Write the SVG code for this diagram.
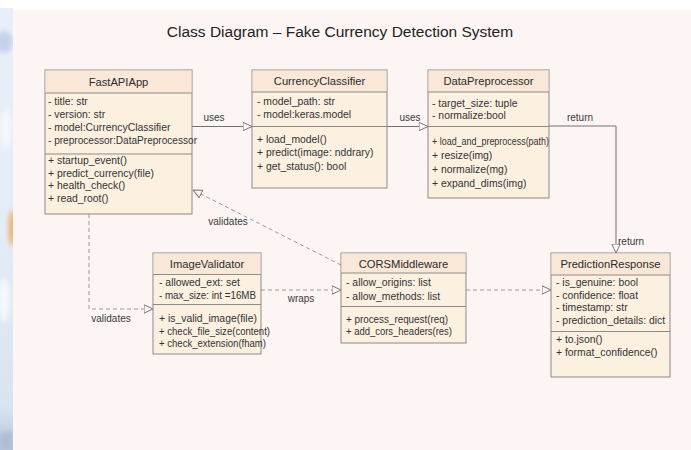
<svg xmlns="http://www.w3.org/2000/svg" width="691" height="450" viewBox="0 0 691 450">
  <defs>
    <style>
      text { font-family: "Liberation Sans", Arial, Helvetica, sans-serif; fill: #333; }
      .title { font-size: 15.5px; fill: #222; text-anchor: middle; }
      .cname { font-size: 11.2px; text-anchor: middle; fill: #2b2b2b; }
      .mem { font-size: 10.4px; }
      .lbl { font-size: 10px; fill: #3a3a3a; }
      .lblc { font-size: 10px; fill: #3a3a3a; text-anchor: middle; }
      .body { fill: #fcf0e1; stroke: #8e8a86; stroke-width: 1; }
      .head { fill: #f9e7d7; }
      .sep { stroke: #8e8a86; stroke-width: 1; }
      .solid { fill: none; stroke: #707070; stroke-width: 1; marker-end: url(#tri); }
      .dash { fill: none; stroke: #9a9a9a; stroke-width: 1; stroke-dasharray: 4 3; marker-end: url(#tri); }
      .tip { fill: #fcf5f3; stroke: #7a7a7a; stroke-width: 1; }
    </style>
    <!-- hollow triangle used for every association end -->
    <marker id="tri" viewBox="0 0 10 10" refX="9.5" refY="5" markerWidth="10" markerHeight="10" markerUnits="userSpaceOnUse" orient="auto">
      <path class="tip" d="M0.5,0.8 L9.5,5 L0.5,9.2 z"/>
    </marker>
    <linearGradient id="strip" x1="0" y1="0" x2="0" y2="1">
      <stop offset="0" stop-color="#e9eff9"/>
      <stop offset="0.5" stop-color="#e3ecf7"/>
      <stop offset="0.9" stop-color="#d9e4f1"/>
      <stop offset="1" stop-color="#b9c6d8"/>
    </linearGradient>
    <filter id="soft" x="-50%" y="-50%" width="200%" height="200%">
      <feGaussianBlur stdDeviation="2.5"/>
    </filter>
    <clipPath id="stripClip"><rect x="0" y="8" width="13" height="442"/></clipPath>
  </defs>

  <!-- page -->
  <rect x="0" y="0" width="691" height="450" fill="#ffffff"/>
  <rect x="13" y="10" width="678" height="440" fill="#fcf5f3"/>

  <!-- soft picture along the left edge -->
  <g clip-path="url(#stripClip)">
    <rect x="0" y="8" width="13" height="442" fill="url(#strip)"/>
    <g filter="url(#soft)">
      <ellipse cx="4" cy="42" rx="9" ry="11" fill="#c6d1ee"/>
      <ellipse cx="6" cy="130" rx="6" ry="20" fill="#f4f7fc"/>
      <ellipse cx="12" cy="228" rx="3" ry="18" fill="#f0a65e"/>
      <ellipse cx="4" cy="300" rx="6" ry="22" fill="#f5f8fc"/>
      <rect x="0" y="432" width="13" height="18" fill="#aebdd1"/>
    </g>
  </g>

  <text class="title" x="340" y="37">Class Diagram – Fake Currency Detection System</text>

  <!-- associations -->
  <g id="connectors">
    <line class="solid" x1="192" y1="126.5" x2="252" y2="126.5"/>
    <line class="solid" x1="387" y1="126.5" x2="428" y2="126.5"/>
    <polyline class="solid" points="549,126 616,126 616,253"/>
    <polyline class="dash" points="89,214 89,309 153,309"/>
    <line class="dash" x1="341" y1="265" x2="193" y2="190"/>
    <line class="dash" x1="261" y1="290" x2="341" y2="290"/>
    <line class="dash" x1="466" y1="290" x2="551" y2="290"/>
    <text class="lblc" x="214" y="121">uses</text>
    <text class="lblc" x="410" y="121">uses</text>
    <text class="lblc" x="580" y="120.5">return</text>
    <text class="lbl" x="618" y="244.5">return</text>
    <text class="lblc" x="111" y="322">validates</text>
    <text class="lblc" x="228" y="224.5">validates</text>
    <text class="lblc" x="301" y="302">wraps</text>
  </g>

  <g id="FastAPIApp">
    <rect class="body" x="45" y="70" width="147" height="144"/>
    <rect class="head" x="45.5" y="70.5" width="146" height="22.5"/>
    <line class="sep" x1="45" y1="93" x2="192" y2="93"/>
    <line class="sep" x1="45" y1="154" x2="192" y2="154"/>
    <text class="cname" x="118.5" y="85.5">FastAPIApp</text>
    <text class="mem" x="48" y="105">- title: str</text>
    <text class="mem" x="48" y="118">- version: str</text>
    <text class="mem" x="48" y="131">- model:CurrencyClassifier</text>
    <text class="mem" x="48" y="144" textLength="149" lengthAdjust="spacingAndGlyphs">- preprocessor:DataPreprocessor</text>
    <text class="mem" x="48" y="164">+ startup_event()</text>
    <text class="mem" x="48" y="176.5">+ predict_currency(file)</text>
    <text class="mem" x="48" y="189">+ health_check()</text>
    <text class="mem" x="48" y="201.5">+ read_root()</text>
  </g>

  <g id="CurrencyClassifier">
    <rect class="body" x="252" y="70" width="135" height="118"/>
    <rect class="head" x="252.5" y="70.5" width="134" height="21.5"/>
    <line class="sep" x1="252" y1="92" x2="387" y2="92"/>
    <line class="sep" x1="252" y1="126.5" x2="387" y2="126.5"/>
    <text class="cname" x="319.5" y="84.5">CurrencyClassifier</text>
    <text class="mem" x="257" y="104.5">- model_path: str</text>
    <text class="mem" x="257" y="118">- model:keras.model</text>
    <text class="mem" x="257" y="143">+ load_model()</text>
    <text class="mem" x="257" y="156">+ predict(image: nddrary)</text>
    <text class="mem" x="257" y="169.5">+ get_status(): bool</text>
  </g>

  <g id="DataPreprocessor">
    <rect class="body" x="428" y="70" width="121" height="128"/>
    <rect class="head" x="428.5" y="70.5" width="120" height="21.5"/>
    <line class="sep" x1="428" y1="92" x2="549" y2="92"/>
    <line class="sep" x1="428" y1="126.5" x2="549" y2="126.5"/>
    <text class="cname" x="488.5" y="84.5">DataPreprocessor</text>
    <text class="mem" x="432" y="106.5">- target_size: tuple</text>
    <text class="mem" x="432" y="119">- normalize:bool</text>
    <text class="mem" x="432" y="145" textLength="117" lengthAdjust="spacingAndGlyphs">+ load_and_preprocess(path)</text>
    <text class="mem" x="432" y="159">+ resize(img)</text>
    <text class="mem" x="432" y="173">+ normalize(mg)</text>
    <text class="mem" x="432" y="186.5">+ expand_dims(img)</text>
  </g>

  <g id="ImageValidator">
    <rect class="body" x="153" y="253" width="108" height="101"/>
    <rect class="head" x="153.5" y="253.5" width="107" height="21"/>
    <line class="sep" x1="153" y1="274.5" x2="261" y2="274.5"/>
    <line class="sep" x1="153" y1="304.5" x2="261" y2="304.5"/>
    <text class="cname" x="207" y="268">ImageValidator</text>
    <text class="mem" x="159" y="285.5">- allowed_ext: set</text>
    <text class="mem" x="159" y="299" textLength="97" lengthAdjust="spacingAndGlyphs">- max_size: int =16MB</text>
    <text class="mem" x="159" y="322">+ is_valid_image(file)</text>
    <text class="mem" x="159" y="334.5" textLength="111" lengthAdjust="spacingAndGlyphs">+ check_file_size(content)</text>
    <text class="mem" x="159" y="347" textLength="107" lengthAdjust="spacingAndGlyphs">+ check_extension(fham)</text>
  </g>

  <g id="CORSMiddleware">
    <rect class="body" x="341" y="253" width="125" height="90"/>
    <rect class="head" x="341.5" y="253.5" width="124" height="19.5"/>
    <line class="sep" x1="341" y1="273" x2="466" y2="273"/>
    <line class="sep" x1="341" y1="306.5" x2="466" y2="306.5"/>
    <text class="cname" x="403.5" y="268">CORSMiddleware</text>
    <text class="mem" x="346" y="285.5">- allow_origins: list</text>
    <text class="mem" x="346" y="300">- allow_methods: list</text>
    <text class="mem" x="346" y="322.5" textLength="102" lengthAdjust="spacingAndGlyphs">+ process_request(req)</text>
    <text class="mem" x="346" y="334.5" textLength="106" lengthAdjust="spacingAndGlyphs">+ add_cors_headers(res)</text>
  </g>

  <g id="PredictionResponse">
    <rect class="body" x="551" y="253" width="119" height="124"/>
    <rect class="head" x="551.5" y="253.5" width="118" height="21.5"/>
    <line class="sep" x1="551" y1="275" x2="670" y2="275"/>
    <line class="sep" x1="551" y1="331.5" x2="670" y2="331.5"/>
    <text class="cname" x="610.5" y="268">PredictionResponse</text>
    <text class="mem" x="556" y="286">- is_genuine: bool</text>
    <text class="mem" x="556" y="298.5">- confidence: float</text>
    <text class="mem" x="556" y="311">- timestamp: str</text>
    <text class="mem" x="556" y="323.5">- prediction_details: dict</text>
    <text class="mem" x="556" y="343">+ to.json()</text>
    <text class="mem" x="556" y="355.5">+ format_confidence()</text>
  </g>
</svg>
